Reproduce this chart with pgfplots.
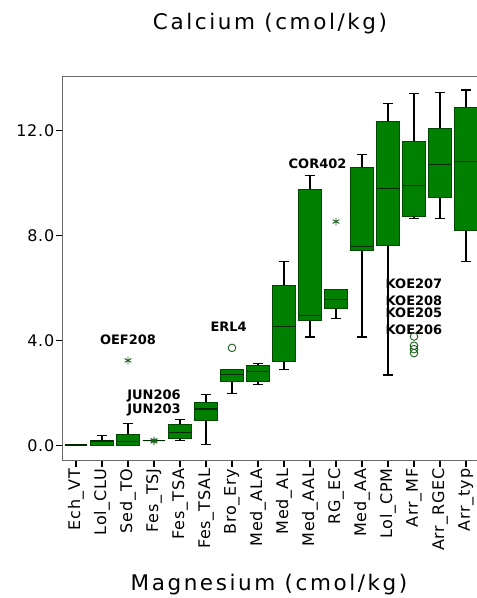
\documentclass[border=0pt]{standalone}
\usepackage{pgfplots}
\pgfplotsset{compat=1.18}
\usepgfplotslibrary{statistics}
\usepackage{fontspec}
\setmainfont{DejaVu Sans}
\newfontfamily\titlefont[LetterSpace=12]{DejaVu Sans}
\newfontfamily\tickfont[LetterSpace=5]{DejaVu Sans}
\newfontfamily\idfont{DejaVu Sans Bold}

\definecolor{boxgreen}{RGB}{0,128,0}
\definecolor{boxedge}{RGB}{0,72,0}
\definecolor{medline}{RGB}{0,40,0}
\definecolor{markgreen}{RGB}{25,95,25}
\definecolor{axisgray}{RGB}{105,105,105}

\pgfplotsset{
  greenbox/.style={
    boxplot/draw direction=y,
    boxplot/box extend=0.86,
    boxplot/whisker extend=0.42,
    boxplot/every box/.style={draw=boxedge, fill=boxgreen, line width=0.9pt},
    boxplot/every whisker/.style={draw=black, line width=1.2pt},
    boxplot/every median/.style={draw=medline, line width=1.2pt},
    mark options={draw=markgreen, line width=0.9pt, fill=none},
    mark size=3.8pt,
  },
}

\begin{document}
\begin{tikzpicture}
\begin{axis}[
  scale only axis,
  width=416pt, height=384pt,
  xmin=-0.5, xmax=15.5,
  ymin=-0.55, ymax=14.07,
  axis line style={draw=axisgray, line width=1pt},
  tick pos=left,
  tick align=outside,
  major tick length=6.5pt,
  tick style={black, line width=1.6pt},
  xtick={0,...,15},
  xticklabels={Ech\_VT, Lol\_CLU, Sed\_TO, Fes\_TSJ, Fes\_TSA, Fes\_TSAL, Bro\_Ery, Med\_ALA, Med\_AL, Med\_AAL, RG\_EC, Med\_AA, Lol\_CPM, Arr\_MF, Arr\_RGEC, Arr\_typ},
  x tick label style={rotate=90, anchor=east, font=\tickfont\fontsize{16}{16}\selectfont, inner sep=2pt},
  ytick={0,4,8,12},
  y tick label style={font=\tickfont\fontsize{16}{16}\selectfont, inner sep=2pt},
  /pgf/number format/assume math mode=true,
  yticklabel style={/pgf/number format/.cd, fixed, fixed zerofill, precision=1},
  clip=false,
  greenbox,
]
% Ech_VT
\addplot[boxplot prepared={draw position=0, lower whisker=0.02, lower quartile=0.02, median=0.02, upper quartile=0.02, upper whisker=0.02}] coordinates {};
% Lol_CLU
\addplot[boxplot prepared={draw position=1, lower whisker=0.0, lower quartile=0.02, median=0.17, upper quartile=0.21, upper whisker=0.38}] coordinates {};
% Sed_TO, outlier OEF208
\addplot[mark=asterisk, boxplot prepared={draw position=2, lower whisker=0.0, lower quartile=0.01, median=0.14, upper quartile=0.43, upper whisker=0.84}] coordinates {(0,3.24)};
% Fes_TSJ, outliers JUN206 and JUN203
\addplot[mark=asterisk, boxplot prepared={draw position=3, lower whisker=0.18, lower quartile=0.18, median=0.18, upper quartile=0.18, upper whisker=0.18}] coordinates {(0,0.20) (0,0.16)};
% Fes_TSA
\addplot[boxplot prepared={draw position=4, lower whisker=0.18, lower quartile=0.26, median=0.49, upper quartile=0.80, upper whisker=0.98}] coordinates {};
% Fes_TSAL
\addplot[boxplot prepared={draw position=5, lower whisker=0.03, lower quartile=0.95, median=1.39, upper quartile=1.64, upper whisker=1.94}] coordinates {};
% Bro_Ery, outlier ERL4
\addplot[mark=o, boxplot prepared={draw position=6, lower whisker=1.97, lower quartile=2.44, median=2.70, upper quartile=2.91, upper whisker=2.91}] coordinates {(0,3.72)};
% Med_ALA
\addplot[boxplot prepared={draw position=7, lower whisker=2.32, lower quartile=2.44, median=2.81, upper quartile=3.06, upper whisker=3.11}] coordinates {};
% Med_AL
\addplot[boxplot prepared={draw position=8, lower whisker=2.91, lower quartile=3.21, median=4.53, upper quartile=6.09, upper whisker=7.00}] coordinates {};
% Med_AAL
\addplot[boxplot prepared={draw position=9, lower whisker=4.13, lower quartile=4.78, median=4.94, upper quartile=9.76, upper whisker=10.27}] coordinates {};
% RG_EC, outlier COR402
\addplot[mark=asterisk, boxplot prepared={draw position=10, lower whisker=4.83, lower quartile=5.23, median=5.55, upper quartile=5.95, upper whisker=5.95}] coordinates {(0,8.53)};
% Med_AA
\addplot[boxplot prepared={draw position=11, lower whisker=4.13, lower quartile=7.42, median=7.58, upper quartile=10.60, upper whisker=11.07}] coordinates {};
% Lol_CPM
\addplot[boxplot prepared={draw position=12, lower whisker=2.69, lower quartile=7.60, median=9.80, upper quartile=12.33, upper whisker=13.03}] coordinates {};
% Arr_MF, outliers KOE207, KOE208, KOE205, KOE206
\addplot[mark=o, boxplot prepared={draw position=13, lower whisker=8.64, lower quartile=8.72, median=9.89, upper quartile=11.57, upper whisker=13.39}] coordinates {(0,4.15) (0,3.80) (0,3.67) (0,3.52)};
% Arr_RGEC
\addplot[boxplot prepared={draw position=14, lower whisker=8.64, lower quartile=9.46, median=10.71, upper quartile=12.08, upper whisker=13.44}] coordinates {};
% Arr_typ
\addplot[boxplot prepared={draw position=15, lower whisker=7.00, lower quartile=8.18, median=10.81, upper quartile=12.88, upper whisker=13.54}] coordinates {};

% case identifiers of the outlying samples
\begin{scope}[every node/.style={font=\idfont\fontsize{13}{13}\selectfont, inner sep=0pt}]
\node at (axis cs:2,4.02) {OEF208};
\node at (axis cs:3,1.89) {JUN206};
\node at (axis cs:3,1.36) {JUN203};
\node at (axis cs:5.87,4.51) {ERL4};
\node at (axis cs:9.29,10.72) {COR402};
\node at (axis cs:13,6.16) {KOE207};
\node at (axis cs:13,5.52) {KOE208};
\node at (axis cs:13,5.04) {KOE205};
\node at (axis cs:13,4.40) {KOE206};
\end{scope}
\end{axis}
\node[anchor=base, inner sep=0pt, font=\titlefont\fontsize{21.5}{21.5}\selectfont] at (207pt,430pt) {Calcium (cmol/kg)};
\node[anchor=base, inner sep=0pt, font=\titlefont\fontsize{21.5}{21.5}\selectfont] at (206pt,-130pt) {Magnesium (cmol/kg)};
\pgfresetboundingbox
\useasboundingbox (-63pt,-138pt) rectangle (414pt,460pt);
\end{tikzpicture}
\end{document}
